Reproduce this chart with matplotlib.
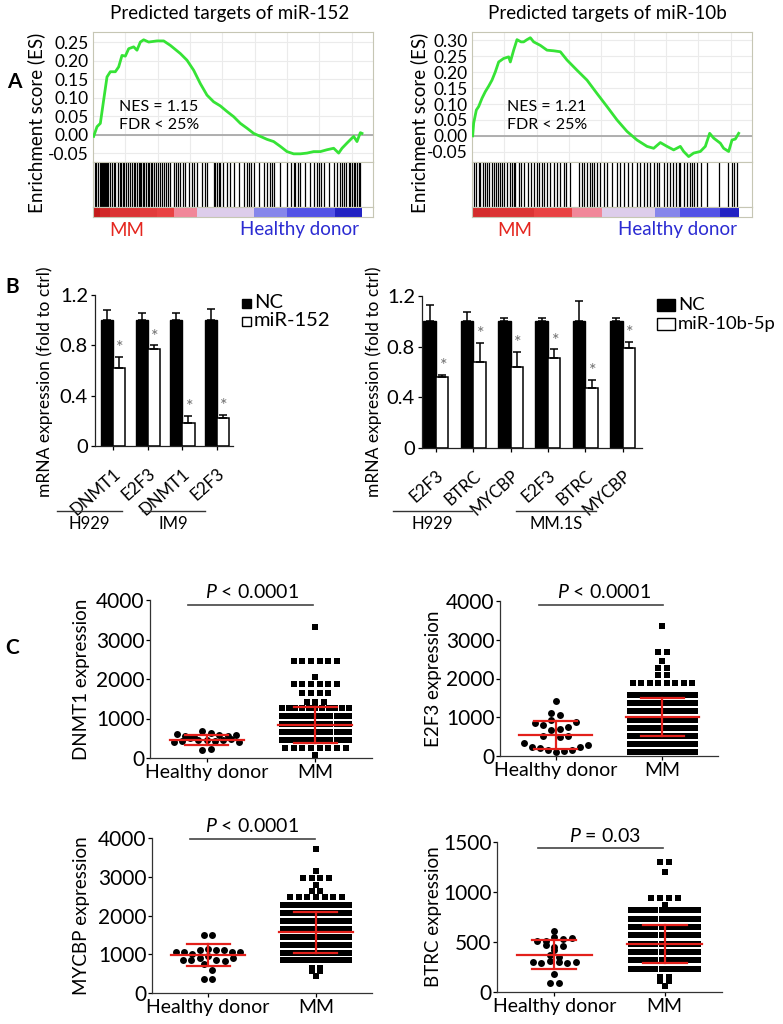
import numpy as np
import matplotlib
matplotlib.use('Agg')
import matplotlib.pyplot as plt
from matplotlib.colors import LinearSegmentedColormap
from matplotlib.lines import Line2D
from matplotlib.patches import Rectangle
from matplotlib.transforms import ScaledTranslation

plt.rcParams['font.family'] = ['Lato', 'DejaVu Sans']
plt.rcParams['mathtext.fontset'] = 'custom'
plt.rcParams['mathtext.it'] = 'Lato:italic'
plt.rcParams['mathtext.rm'] = 'Lato'

# ---------------- Panel A data ----------------
es152_rank = [2, 12, 22, 32, 42, 52, 67, 77, 87, 97, 107, 122, 132, 142, 152, 167, 192, 212, 232, 262,
              282, 302, 322, 342, 362, 382, 402, 422, 442, 462, 482, 502, 522, 542, 562, 582, 602, 622,
              642, 662, 682, 702, 722, 737, 747, 762, 772, 782, 792, 802, 807]
es152_val = [-0.004, 0.022, 0.031, 0.094, 0.156, 0.170, 0.170, 0.183, 0.214, 0.212, 0.232, 0.237, 0.228,
             0.250, 0.256, 0.250, 0.253, 0.253, 0.241, 0.219, 0.201, 0.174, 0.138, 0.107, 0.089, 0.078,
             0.063, 0.049, 0.031, 0.018, 0.004, -0.004, -0.012, -0.018, -0.031, -0.045, -0.051, -0.051,
             -0.049, -0.045, -0.045, -0.040, -0.036, -0.049, -0.036, -0.022, -0.013, -0.004, -0.018,
             0.006, 0.004]
hits152 = [5, 10, 15, 20, 23, 26, 29, 32, 35, 38, 41, 44, 52, 58, 62, 67, 74, 80, 85, 89, 94, 100, 106,
           112, 118, 122, 127, 132, 137, 142, 145, 150, 154, 159, 164, 169, 174, 178, 184, 189, 194, 200,
           206, 212, 219, 225, 232, 242, 248, 255, 262, 270, 277, 287, 297, 304, 312, 327, 337, 342, 362,
           367, 372, 377, 382, 390, 402, 412, 422, 437, 452, 462, 467, 474, 482, 497, 512, 522, 530, 537,
           544, 562, 582, 594, 602, 607, 614, 622, 637, 652, 664, 672, 677, 684, 692, 707, 722, 732, 740,
           747, 754, 760, 767, 772, 777, 782, 787, 792, 797, 802]
metric152_edges = [0, 22, 52, 142, 192, 242, 312, 482, 582, 727, 807]
metric152_vals = [1.0, 0.88, 0.78, 0.72, 0.66, 0.3, -0.05, -0.4, -0.6, -0.95]

es10b_rank = [2, 5, 13, 20, 30, 40, 50, 60, 70, 80, 95, 110, 115, 125, 135, 147, 155, 165, 175, 185,
              205, 225, 245, 265, 285, 315, 345, 375, 405, 435, 465, 495, 525, 545, 565, 585, 605, 625,
              635, 650, 665, 685, 700, 713, 725, 745, 755, 770, 780, 790, 800]
es10b_val = [0.0, 0.040, 0.081, 0.092, 0.118, 0.139, 0.156, 0.175, 0.201, 0.232, 0.243, 0.248, 0.232,
             0.269, 0.302, 0.295, 0.295, 0.302, 0.308, 0.295, 0.284, 0.269, 0.267, 0.264, 0.238, 0.206,
             0.175, 0.133, 0.092, 0.050, 0.014, -0.013, -0.033, -0.039, -0.021, -0.033, -0.044, -0.033,
             -0.049, -0.065, -0.054, -0.049, -0.033, 0.008, -0.007, -0.023, -0.039, -0.049, -0.013,
             -0.010, 0.008]
hits10b = [5, 13, 20, 25, 33, 38, 45, 52, 60, 65, 73, 77, 83, 90, 97, 105, 113, 120, 125, 130, 140, 147,
           155, 167, 177, 185, 195, 202, 210, 217, 225, 233, 245, 255, 265, 275, 283, 293, 320, 330, 337,
           345, 353, 360, 367, 375, 383, 395, 405, 420, 435, 445, 455, 467, 480, 495, 503, 515, 525, 535,
           545, 555, 560, 577, 585, 595, 603, 613, 620, 625, 635, 645, 655, 660, 667, 675, 687, 705, 740,
           767, 780, 787, 795]
metric10b_edges = [0, 55, 185, 300, 390, 550, 625, 745, 800]
metric10b_vals = [0.85, 0.78, 0.66, 0.3, -0.05, -0.4, -0.6, -0.95]

# ---------------- Panel B data ----------------
b152_genes = ['DNMT1', 'E2F3', 'DNMT1', 'E2F3']
b152_cells = ['H929', 'IM9']
b152_nc = [1.0, 1.0, 1.0, 1.0]
b152_nc_err = [0.08, 0.06, 0.06, 0.09]
b152_mir = [0.62, 0.77, 0.18, 0.22]
b152_mir_err = [0.09, 0.03, 0.06, 0.03]

b10b_genes = ['E2F3', 'BTRC', 'MYCBP', 'E2F3', 'BTRC', 'MYCBP']
b10b_cells = ['H929', 'MM.1S']
b10b_nc = [1.0, 1.0, 1.0, 1.0, 1.0, 1.0]
b10b_nc_err = [0.13, 0.07, 0.03, 0.03, 0.16, 0.03]
b10b_mir = [0.56, 0.68, 0.64, 0.71, 0.475, 0.79]
b10b_mir_err = [0.02, 0.15, 0.12, 0.07, 0.065, 0.05]

# ---------------- Panel C data ----------------
groups = ['Healthy donor', 'MM']

dnmt1_hd_rows = [[615, 564, 540, 674, 632, 590, 564, 590],
                 [396, 430, 505, 446, 463, 421, 446, 480, 410],
                 [194, 227]]
dnmt1_mm_vals = [3310, 2450, 2063, 1880, 1650, 1410, 1270, 1065, 860, 655, 450, 250, 84]
dnmt1_mm_counts = [1, 6, 1, 6, 4, 3, 11, 12, 12, 12, 12, 8, 1]
dnmt1_mean = [463, 840]
dnmt1_sd = [127, 460]

e2f3_hd_rows = [[1425], [1116, 1056], [858, 798, 927, 687, 755, 884], [515, 670, 480, 515],
                [326, 240, 197, 155, 112, 137, 155, 223, 283]]
e2f3_mm_vals = [3348, 2680, 2455, 2283, 2086, 1880, 1570, 1360, 1150, 940, 730, 520, 310, 100]
e2f3_mm_counts = [1, 2, 1, 2, 2, 8, 12, 12, 12, 12, 12, 12, 12, 12]
e2f3_mean = [550, 1010]
e2f3_sd = [360, 495]

mycbp_hd_rows = [[1495, 1495], [1063, 1063, 1002, 1106, 1123, 1106, 1106, 1063, 1063],
                 [864, 847, 916, 960, 847, 829, 900], [760, 605], [372, 372]]
mycbp_mm_vals = [3724, 3136, 2963, 2790, 2640, 2480, 2275, 2070, 1865, 1660, 1455, 1250, 1045, 845,
                 657, 560, 432]
mycbp_mm_counts = [1, 1, 4, 1, 2, 7, 12, 12, 12, 12, 12, 12, 12, 12, 2, 2, 1]
mycbp_mean = [976, 1570]
mycbp_sd = [285, 530]

btrc_hd_rows = [[607], [510, 510, 550, 533, 543], [467, 450, 457], [417], [367, 350],
                [300, 290, 310, 300, 290, 300], [177], [90, 90]]
btrc_mm_vals = [1300, 1200, 945, 867, 817, 733, 650, 566, 483, 399, 316, 232, 150, 110, 57]
btrc_mm_counts = [2, 1, 4, 1, 12, 12, 12, 12, 12, 12, 12, 12, 2, 2, 1]
btrc_mean = [372, 478]
btrc_sd = [145, 188]

# ---------------- figure ----------------
W, H = 783, 1024
fig = plt.figure(figsize=(W / 100, H / 100), dpi=100)


def fx(px):
    return px / W


def fy(py):
    return 1 - py / H


def box(l, t, r, b):
    return [fx(l), fy(b), fx(r) - fx(l), fy(t) - fy(b)]


RED_TXT = '#e4261f'
BLUE_TXT = '#2b2bd2'
FRAME = '#c6c6b4'

cmap = LinearSegmentedColormap.from_list(
    'gsea', [(0.0, '#1c1cbe'), (0.2, '#5252e6'), (0.45, '#d6d6f4'),
             (0.55, '#f2b0cf'), (0.8, '#f04a4a'), (1.0, '#c41a1a')])


def gsea_panel(l, r, title, title_x, ylab_x, rank, es, hits, edges, vals, ylim, yticks,
               nes, nes_x, mm_x, hd_x):
    n_total = 840
    ax = fig.add_axes(box(l, 32, r, 162))
    ax.plot(rank, es, color='#36e336', lw=2.0, zorder=3)
    ax.set_xlim(0, n_total)
    ax.set_ylim(*ylim)
    ax.set_yticks(yticks)
    ax.set_yticklabels(['%.2f' % t for t in yticks], fontsize=12.5)
    ax.set_xticks(np.arange(97, n_total, 97))
    ax.set_xticklabels([])
    ax.tick_params(length=0, pad=3)
    ax.grid(True, color='#ebebeb', lw=0.8, zorder=0)
    ax.axhline(0, color='#a9a9a9', lw=1.3, zorder=2)
    for s in ax.spines.values():
        s.set_color(FRAME)
    ax.text(nes_x, 0.423, 'NES = %s' % nes, transform=ax.transAxes, fontsize=11.5, va='center')
    ax.text(nes_x, 0.285, 'FDR < 25%', transform=ax.transAxes, fontsize=11.5, va='center')

    ax2 = fig.add_axes(box(l, 162, r, 206.5))
    ax2.vlines(hits, 0, 1, color='black', lw=0.9)
    ax2.set_xlim(0, n_total)
    ax2.set_ylim(0, 1)
    ax2.set_xticks([])
    ax2.set_yticks([])
    for s in ax2.spines.values():
        s.set_color(FRAME)

    ax3 = fig.add_axes(box(l, 206.5, r, 216.5))
    ax3.pcolormesh(edges, [0, 1], np.array([vals]), cmap=cmap, vmin=-1, vmax=1)
    ax3.set_xlim(0, n_total)
    ax3.set_ylim(0, 1)
    ax3.set_xticks([])
    ax3.set_yticks([])
    for s in ax3.spines.values():
        s.set_color(FRAME)

    fig.text(fx(title_x), fy(13), title, ha='center', va='center', fontsize=13.5)
    fig.text(fx(ylab_x), fy(123), 'Enrichment score (ES)', rotation=90, ha='center',
             va='center', fontsize=13.5)
    fig.text(fx(mm_x), fy(230), 'MM', color=RED_TXT, ha='center', va='center', fontsize=13.5)
    fig.text(fx(hd_x), fy(230), 'Healthy donor', color=BLUE_TXT, ha='center', va='center',
             fontsize=13.5)


gsea_panel(93, 373, 'Predicted targets of miR-152', 230, 36, es152_rank, es152_val, hits152,
           metric152_edges, metric152_vals, (-0.073, 0.277),
           [0.25, 0.20, 0.15, 0.10, 0.05, 0.00, -0.05], '1.15', 0.093, 127, 299)
gsea_panel(472, 752, 'Predicted targets of miR-10b', 607, 419, es10b_rank, es10b_val, hits10b,
           metric10b_edges, metric10b_vals, (-0.082, 0.326),
           [0.30, 0.25, 0.20, 0.15, 0.10, 0.05, 0.00, -0.05], '1.21', 0.125, 515, 678)


# ---------------- Panel B ----------------
def bar_panel(rect, genes, nc, nc_err, mir, mir_err, bw, xlim, ylab_x):
    ax = fig.add_axes(rect)
    x = np.arange(len(genes))
    ekw = dict(elinewidth=1.1, capthick=1.1, ecolor='black')
    ax.bar(x - bw / 2, nc, bw, color='black', edgecolor='black', lw=1.0,
           yerr=[np.zeros(len(x)), nc_err], capsize=2.6, error_kw=ekw)
    ax.bar(x + bw / 2, mir, bw, color='white', edgecolor='black', lw=1.1,
           yerr=[np.zeros(len(x)), mir_err], capsize=2.6, error_kw=ekw)
    for xi, m, e in zip(x, mir, mir_err):
        ax.text(xi + bw / 2 + 0.03, m + e + 0.005, '*', ha='center', va='bottom',
                fontsize=13, color='#707070')
    ax.set_xlim(*xlim)
    ax.set_ylim(0, 1.2)
    ax.set_yticks([0, 0.4, 0.8, 1.2])
    ax.set_yticklabels(['0', '0.4', '0.8', '1.2'], fontsize=14.5)
    ax.set_xticks(x)
    ax.set_xticklabels(genes, rotation=42, ha='right', va='top', rotation_mode='anchor',
                       fontsize=12.2)
    off = ScaledTranslation(4 / 100, 0, fig.dpi_scale_trans)
    for lab in ax.get_xticklabels():
        lab.set_transform(lab.get_transform() + off)
    ax.tick_params(axis='y', length=3, pad=2, width=0.9)
    ax.tick_params(axis='x', length=3, pad=11, width=0.9)
    for s in ['top', 'right']:
        ax.spines[s].set_visible(False)
    for s in ['left', 'bottom']:
        ax.spines[s].set_linewidth(0.9)
        ax.spines[s].set_color('#222222')
    fig.text(fx(ylab_x), fy(382), 'mRNA expression (fold to ctrl)', rotation=90, ha='center',
             va='center', fontsize=12.5)
    return ax


bar_panel(box(95, 295, 233, 446), b152_genes, b152_nc, b152_nc_err, b152_mir, b152_mir_err,
          0.35, (-0.52, 3.46), 45)
bar_panel(box(422, 296, 642, 448), b10b_genes, b10b_nc, b10b_nc_err, b10b_mir, b10b_mir_err,
          0.335, (-0.375, 5.52), 374)


def group_label(x0, x1, name):
    fig.add_artist(Line2D([fx(x0), fx(x1)], [fy(511), fy(511)], color='#333333', lw=1.0))
    fig.text(fx((x0 + x1) / 2), fy(524), name, ha='center', va='center', fontsize=12)


group_label(57, 122, b152_cells[0])
group_label(142, 205, b152_cells[1])
group_label(393, 472, b10b_cells[0])
group_label(516, 596, b10b_cells[1])


def legend(x, w, y1, y2, h, lab2, fs):
    fig.add_artist(Rectangle((fx(x), fy(y1 + h / 2)), w / W, h / H, transform=fig.transFigure,
                             facecolor='black', edgecolor='black', lw=1))
    fig.add_artist(Rectangle((fx(x), fy(y2 + h / 2)), w / W, h / H, transform=fig.transFigure,
                             facecolor='white', edgecolor='black', lw=1))
    fig.text(fx(x + w + 3), fy(y1), 'NC', ha='left', va='center', fontsize=fs)
    fig.text(fx(x + w + 3), fy(y2), lab2, ha='left', va='center', fontsize=fs)


legend(242, 9, 303, 321, 9, 'miR-152', 14.5)
legend(657, 18, 305, 324, 12, 'miR-10b-5p', 13.3)


# ---------------- Panel C ----------------
def row_x(center, n, sp, maxw):
    if n == 1:
        return np.array([float(center)])
    s = min(sp, maxw / (n - 1))
    return center + (np.arange(n) - (n - 1) / 2) * s


def dot_panel(rect, hd_rows, mm_vals, mm_counts, mean, sd, ymax, yticks, ylabel, ylab_x):
    ax = fig.add_axes(rect)
    for row in hd_rows:
        xs = row_x(0, len(row), 0.078, 0.6)
        ax.plot(xs, row, 'o', color='black', ms=5.0, mew=0, zorder=2)
    for v, c in zip(mm_vals, mm_counts):
        xs = row_x(1, c, 0.08, 0.61)
        ax.plot(xs, [v] * c, 's', color='black', ms=5.0, mew=0, zorder=2)
    for i in range(2):
        ax.plot([i - 0.34, i + 0.34], [mean[i]] * 2, color='#e3201b', lw=1.6, zorder=3)
        for yv in (mean[i] - sd[i], mean[i] + sd[i]):
            ax.plot([i - 0.2, i + 0.2], [yv] * 2, color='#e3201b', lw=1.6, zorder=3)
        ax.plot([i, i], [mean[i] - sd[i], mean[i] + sd[i]], color='#e3201b', lw=1.6, zorder=3)
    ax.set_xlim(-0.52, 1.52)
    ax.set_ylim(0, ymax)
    ax.set_yticks(yticks)
    ax.set_yticklabels([str(t) for t in yticks], fontsize=15)
    ax.set_xticks([0, 1])
    ax.set_xticklabels(groups, fontsize=14)
    ax.tick_params(length=3, pad=1, width=0.9)
    for s in ['top', 'right']:
        ax.spines[s].set_visible(False)
    for s in ['left', 'bottom']:
        ax.spines[s].set_linewidth(0.9)
        ax.spines[s].set_color('#333333')
    b = ax.get_position()
    fig.text(fx(ylab_x), b.y0 + b.height / 2, ylabel, rotation=90, ha='center', va='center',
             fontsize=13.5)
    return ax


dot_panel(box(150, 600, 372, 758), dnmt1_hd_rows, dnmt1_mm_vals, dnmt1_mm_counts, dnmt1_mean,
          dnmt1_sd, 4000, [0, 1000, 2000, 3000, 4000], 'DNMT1 expression', 82)
dot_panel(box(500, 601, 718, 756), e2f3_hd_rows, e2f3_mm_vals, e2f3_mm_counts, e2f3_mean,
          e2f3_sd, 4000, [0, 1000, 2000, 3000, 4000], 'E2F3 expression', 433)
dot_panel(box(152, 838, 372, 993), mycbp_hd_rows, mycbp_mm_vals, mycbp_mm_counts, mycbp_mean,
          mycbp_sd, 4000, [0, 1000, 2000, 3000, 4000], 'MYCBP expression', 82)
dot_panel(box(497, 842, 722, 992), btrc_hd_rows, btrc_mm_vals, btrc_mm_counts, btrc_mean,
          btrc_sd, 1500, [0, 500, 1000, 1500], 'BTRC expression', 433)


def p_label(x0, x1, yl, xt, yt, txt):
    fig.add_artist(Line2D([fx(x0), fx(x1)], [fy(yl), fy(yl)], color='#444444', lw=1.2))
    fig.text(fx(xt), fy(yt), txt, ha='center', va='center', fontsize=14)


p_label(188, 313, 605, 252, 592, '$P$ < 0.0001')
p_label(539, 663, 605, 604, 592, '$P$ < 0.0001')
p_label(190, 315, 839, 252, 826, '$P$ < 0.0001')
p_label(538, 663, 848, 605, 836, '$P$ = 0.03')

# panel letters
fig.text(fx(14), fy(82), 'A', fontsize=15, fontweight='bold', ha='center', va='center')
fig.text(fx(12), fy(287), 'B', fontsize=15, fontweight='bold', ha='center', va='center')
fig.text(fx(12), fy(648), 'C', fontsize=15, fontweight='bold', ha='center', va='center')

fig.savefig('out.png', dpi=100)
